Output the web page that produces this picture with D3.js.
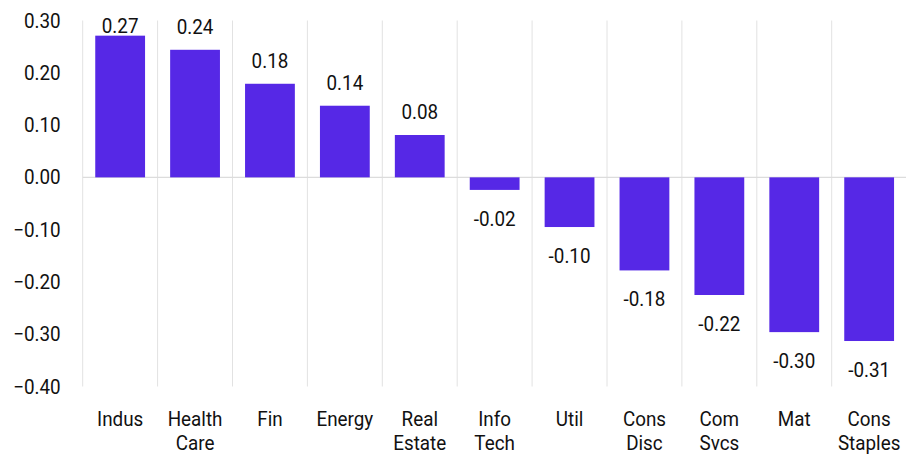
<!DOCTYPE html>
<html><head><meta charset="utf-8">
<script src="https://cdn.jsdelivr.net/npm/d3@7"></script>
<style>body{margin:0;background:#fff}svg{display:block}text{font-family:Roboto,"Liberation Sans",sans-serif;fill:#111}</style>
</head><body><svg id="c" width="906" height="456"></svg>
<script>
const categories = [["Indus"],["Health","Care"],["Fin"],["Energy"],["Real","Estate"],["Info","Tech"],["Util"],["Cons","Disc"],["Com","Svcs"],["Mat"],["Cons","Staples"]];
const values = [0.271, 0.244, 0.179, 0.137, 0.081, -0.024, -0.095, -0.178, -0.225, -0.296, -0.313];
const valueLabels = ["0.27","0.24","0.18","0.14","0.08","-0.02","-0.10","-0.18","-0.22","-0.30","-0.31"];
const yTicks = [0.3, 0.2, 0.1, 0, -0.1, -0.2, -0.3, -0.4];

const svg = d3.select("#c");
const mLeft = 82.7, mRight = 906.6, mTop = 20.5, mBottom = 386.5;
const keys = categories.map((c,i)=>i);
const x = d3.scaleBand().domain(keys).range([mLeft, mRight]).paddingInner(0.335).paddingOuter(0.1675);
const y = d3.scaleLinear().domain([-0.4, 0.3]).range([mBottom, mTop]);
const fs = 20.5, sx = 0.92;

// vertical gridlines at band boundaries
const step = x.step();
svg.append("g").selectAll("line").data(keys).join("line")
  .attr("x1", d => mLeft + d*step).attr("x2", d => mLeft + d*step)
  .attr("y1", mTop).attr("y2", mBottom)
  .attr("stroke", "#e2e2e2").attr("stroke-width", 1);
// zero line
svg.append("line").attr("x1", mLeft).attr("x2", mRight).attr("y1", y(0)).attr("y2", y(0))
  .attr("stroke", "#dcdcdc").attr("stroke-width", 1.2);

// y axis
const yAxis = d3.axisLeft(y).tickValues(yTicks).tickFormat(d3.format(".2f")).tickSize(0).tickPadding(22);
const ga = svg.append("g").attr("transform", `translate(${mLeft},0)`).call(yAxis);
ga.select(".domain").remove();
ga.selectAll("text").attr("font-size", fs).attr("font-family", "Roboto").attr("fill", "#111")
  .attr("x", -22/sx).attr("transform", `scale(${sx},1)`);

// bars
svg.append("g").selectAll("rect").data(values).join("rect")
  .attr("x", (d,i) => x(i)).attr("width", x.bandwidth())
  .attr("y", d => y(Math.max(0,d))).attr("height", d => Math.abs(y(d)-y(0)))
  .attr("fill", "#5628E6");

// value labels
svg.append("g").selectAll("text").data(values).join("text")
  .attr("transform", (d,i) => `translate(${x(i) + x.bandwidth()/2},${d >= 0 ? Math.max(y(d) - 16, 33) : y(d) + 36}) scale(${sx},1)`)
  .attr("text-anchor", "middle").attr("font-size", fs)
  .text((d,i) => valueLabels[i]);

// category labels
const cl = svg.append("g").selectAll("text").data(categories).join("text")
  .attr("text-anchor", "middle").attr("font-size", fs)
  .attr("transform", (d,i) => `translate(${x(i)+x.bandwidth()/2},425.5) scale(${sx},1)`);
cl.selectAll("tspan").data(d => d).join("tspan")
  .attr("x", 0).attr("dy", (d,j) => j ? 25 : 0).text(d => d);
</script></body></html>
